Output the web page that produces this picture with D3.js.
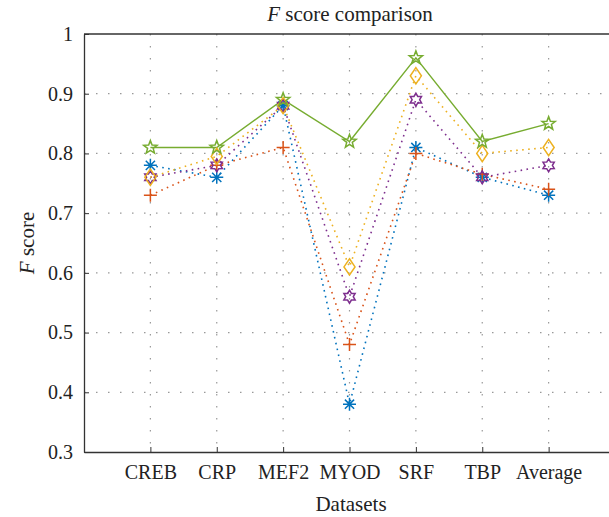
<!DOCTYPE html>
<html>
<head>
<meta charset="utf-8">
<script src="https://cdn.jsdelivr.net/npm/d3@7"></script>
<style>
body { margin: 0; background: #fff; }
text { font-family: "Liberation Serif", "DejaVu Serif", serif; fill: #222; }
</style>
</head>
<body>
<div id="canvas"></div>
<script>
const canvWidth = 609, canvHeight = 517;

const categories = ["CREB", "CRP", "MEF2", "MYOD", "SRF", "TBP", "Average"];
const yTicks = [0.3, 0.4, 0.5, 0.6, 0.7, 0.8, 0.9, 1];

const blueAsterisk = [0.78, 0.76, 0.88, 0.38, 0.81, 0.76, 0.73];
const redPlus = [0.73, 0.78, 0.81, 0.48, 0.80, 0.765, 0.74];
const purpleHexagram = [0.76, 0.78, 0.88, 0.56, 0.89, 0.76, 0.78];
const yellowDiamond = [0.76, 0.795, 0.88, 0.61, 0.93, 0.80, 0.81];
const greenStar = [0.81, 0.81, 0.89, 0.82, 0.96, 0.82, 0.85];

const series = [
    {values: blueAsterisk, color: "#0072BD", marker: "asterisk", dotted: true},
    {values: redPlus, color: "#D95319", marker: "plus", dotted: true},
    {values: purpleHexagram, color: "#7E2F8E", marker: "hexagram", dotted: true},
    {values: yellowDiamond, color: "#EDB120", marker: "diamond", dotted: true},
    {values: greenStar, color: "#77AC30", marker: "star", dotted: false}
];

const margin = {top: 34, right: -6, bottom: 65, left: 84};
const width = canvWidth - margin.left - margin.right;
const height = canvHeight - margin.top - margin.bottom;

const svg = d3.select("#canvas").append("svg")
    .attr("width", canvWidth)
    .attr("height", canvHeight);

const g = svg.append("g")
    .attr("transform", "translate(" + margin.left + "," + margin.top + ")");

const x = d3.scaleLinear().domain([0, categories.length + 1]).range([0, width]);
const y = d3.scaleLinear().domain([0.3, 1]).range([height, 0]);

// grid
g.selectAll(".vgrid").data(categories).enter().append("line")
    .attr("x1", (d, i) => x(i + 1)).attr("x2", (d, i) => x(i + 1))
    .attr("y1", 0).attr("y2", height)
    .attr("stroke", "#999").attr("stroke-width", 1.2)
    .attr("stroke-dasharray", "1.5,10.5");

g.selectAll(".hgrid").data(yTicks.slice(1, -1)).enter().append("line")
    .attr("x1", 0).attr("x2", width)
    .attr("y1", d => y(d)).attr("y2", d => y(d))
    .attr("stroke", "#999").attr("stroke-width", 1.2)
    .attr("stroke-dasharray", "1.5,10.5");

// axes
const xAxis = d3.axisBottom(x)
    .tickValues(d3.range(1, categories.length + 1))
    .tickFormat(d => categories[d - 1])
    .tickSizeInner(-5).tickSizeOuter(0).tickPadding(13);

const yAxis = d3.axisLeft(y)
    .tickValues(yTicks)
    .tickFormat(d3.format("~g"))
    .tickSizeInner(-5).tickSizeOuter(0).tickPadding(11);

const gx = g.append("g").attr("transform", "translate(0," + height + ")").call(xAxis);
const gy = g.append("g").call(yAxis);

[gx, gy].forEach(a => {
    a.select(".domain").attr("stroke", "#333").attr("stroke-width", 1.3);
    a.selectAll(".tick line").attr("stroke", "#333");
    a.selectAll(".tick text").style("font-size", "20px").attr("fill", "#222");
});

g.append("line")
    .attr("x1", 0).attr("x2", width).attr("y1", 0).attr("y2", 0)
    .attr("stroke", "#333").attr("stroke-width", 1.3);

// marker shapes
function markerPath(type, s) {
    if (type === "plus") return "M" + (-s) + ",0H" + s + "M0," + (-s) + "V" + s;
    if (type === "asterisk") {
        let p = "";
        for (let k = 0; k < 4; k++) {
            const a = k * Math.PI / 4;
            p += "M" + (-s * Math.cos(a)) + "," + (-s * Math.sin(a)) + "L" + (s * Math.cos(a)) + "," + (s * Math.sin(a));
        }
        return p;
    }
    if (type === "diamond") return "M0," + (-s * 1.25) + "L" + (s * 0.85) + ",0L0," + (s * 1.25) + "L" + (-s * 0.85) + ",0Z";
    if (type === "star") {
        const pts = [];
        for (let k = 0; k < 10; k++) {
            const r = k % 2 === 0 ? s : s * 0.42;
            const a = -Math.PI / 2 + k * Math.PI / 5;
            pts.push([r * Math.cos(a), r * Math.sin(a)]);
        }
        return "M" + pts.join("L") + "Z";
    }
    if (type === "hexagram") {
        const pts = [];
        for (let k = 0; k < 12; k++) {
            const r = k % 2 === 0 ? s : s * 0.58;
            const a = -Math.PI / 2 + k * Math.PI / 6;
            pts.push([r * Math.cos(a), r * Math.sin(a)]);
        }
        return "M" + pts.join("L") + "Z";
    }
}

const line = d3.line()
    .x((d, i) => x(i + 1))
    .y(d => y(d));

series.forEach(s => {
    g.append("path")
        .attr("d", line(s.values))
        .attr("fill", "none")
        .attr("stroke", s.color)
        .attr("stroke-width", s.dotted ? 1.6 : 1.4)
        .attr("stroke-dasharray", s.dotted ? "1.6,4.4" : null);
});

series.forEach(s => {
    g.selectAll(null).data(s.values).enter().append("path")
        .attr("transform", (d, i) => "translate(" + x(i + 1) + "," + y(d) + ")")
        .attr("d", markerPath(s.marker, s.marker === "star" ? 7 : 6.5))
        .attr("fill", "none")
        .attr("stroke", s.color)
        .attr("stroke-width", 1.5);
});

// titles
const title = svg.append("text")
    .attr("x", 350).attr("y", 21)
    .attr("text-anchor", "middle")
    .style("font-size", "21px");
title.append("tspan").style("font-style", "italic").text("F");
title.append("tspan").text(" score comparison");

svg.append("text")
    .attr("x", 351).attr("y", 511)
    .attr("text-anchor", "middle")
    .style("font-size", "21px")
    .text("Datasets");

const ylab = svg.append("text")
    .attr("transform", "translate(34," + (margin.top + height / 2) + ") rotate(-90)")
    .attr("text-anchor", "middle")
    .style("font-size", "21px");
ylab.append("tspan").style("font-style", "italic").text("F");
ylab.append("tspan").text(" score");
</script>
</body>
</html>
